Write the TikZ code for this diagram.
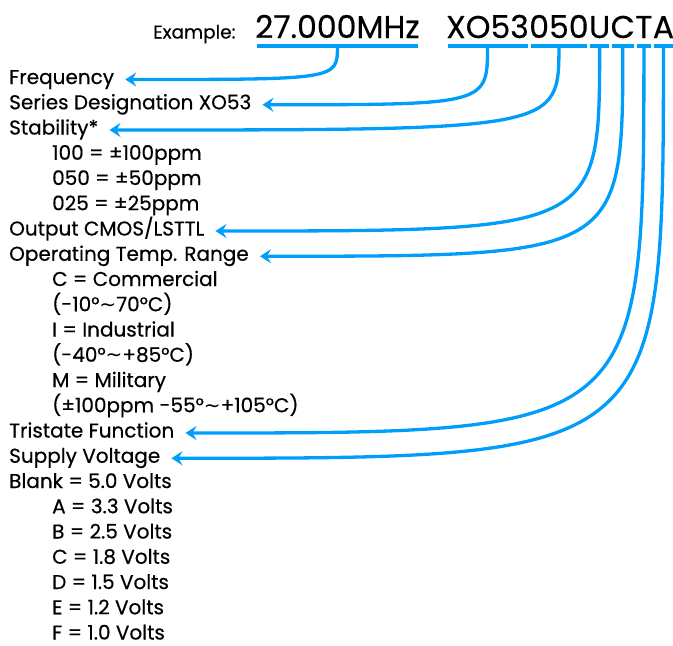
\documentclass[tikz,border=0pt]{standalone}
\usepackage{fontspec}
\setmainfont{Poppins}[FakeBold=0.4]
\newfontfamily\tildefont{DejaVu Sans}
\usetikzlibrary{positioning,arrows.meta}
\definecolor{wire}{RGB}{0,158,250}

\begin{document}
\begin{tikzpicture}[x=1pt,y=-1pt,font=\fontsize{20}{20}\selectfont,
  lbl/.style={anchor=base west,inner sep=0pt,text height=14pt,text depth=5pt},
  code/.style={anchor=base west,inner sep=0pt,text depth=8pt,font=\fontsize{31.5}{32}\selectfont},
  ul/.style={wire,line width=3.8pt,shorten <=1.5pt,shorten >=1.5pt},
  ar/.style={{Stealth[length=11pt,width=14pt,inset=4pt]}-,wire,line width=3.3pt,shorten <=11pt}]
  \useasboundingbox (0,0) rectangle (673,646);
  % part number
  \node[lbl,font=\fontsize{18.5}{20}\selectfont](ex) at (153,38.5){Example:};
  \node[code](fq) at (255,38){27.000MHz};
  \node[code](xo) at (446,38){XO53};
  \node[code,base right=0pt of xo](stb){050};
  \node[code,base right=0pt of stb](outp){U};
  \node[code,base right=0pt of outp](temp){C};
  \node[code,base right=0pt of temp](tri){T};
  \node[code,base right=0pt of tri](volt){A};
  % legend
  \node[lbl](freq) at (9,84){Frequency};
  \node[lbl](series) at (9,109.25){Series Designation XO53};
  \node[lbl](stab) at (9,134.5){Stability*};
  \node[lbl](s100) at (52,159.75){100 = ±100ppm};
  \node[lbl](s050) at (52,185){050 = ±50ppm};
  \node[lbl](s025) at (52,210.25){025 = ±25ppm};
  \node[lbl](output) at (9,235.5){Output CMOS/LSTTL};
  \node[lbl](range) at (9,260.75){Operating Temp. Range};
  \node[lbl](rc) at (52,286){C = Commercial};
  \node[lbl](rcval) at (52,311.25){(-10°{\tildefont ∼}70°C)};
  \node[lbl](ri) at (52,336.5){I = Industrial};
  \node[lbl](rival) at (52,361.75){(-40°{\tildefont ∼}+85°C)};
  \node[lbl](rm) at (52,387){M = Military};
  \node[lbl](rmval) at (52,412.25){(±100ppm -55°{\tildefont ∼}+105°C)};
  \node[lbl](tristate) at (9,437.5){Tristate Function};
  \node[lbl](supply) at (9,462.75){Supply Voltage};
  \node[lbl](blank) at (9,488){Blank = 5.0 Volts};
  \node[lbl](va) at (52,513.25){A = 3.3 Volts};
  \node[lbl](vb) at (52,538.5){B = 2.5 Volts};
  \node[lbl](vc) at (52,563.75){C = 1.8 Volts};
  \node[lbl](vd) at (52,589){D = 1.5 Volts};
  \node[lbl](ve) at (52,614.25){E = 1.2 Volts};
  \node[lbl,text depth=0pt](vf) at (52,639.5){F = 1.0 Volts};
  % underlines and leaders
  \draw[ul](fq.south west)--(fq.south east);\draw[ul](xo.south west)--(xo.south east);\draw[ul](stb.south west)--(stb.south east);
  \draw[ul](outp.south west)--(outp.south east);\draw[ul](temp.south west)--(temp.south east);
  \draw[ul](tri.south west)--(tri.south east);\draw[ul](volt.south west)--(volt.south east);
  \draw[ar](freq.east) .. controls (fq.south |- freq.east) and (fq.south |- freq.east) .. (fq.south);
  \draw[ar](series.east) .. controls (xo.south |- series.east) and (xo.south |- series.east) .. (xo.south);
  \draw[ar](stab.east) .. controls (stb.south |- stab.east) and (stb.south |- stab.east) .. (stb.south);
  \draw[ar](output.east) .. controls (outp.south |- output.east) and (outp.south |- output.east) .. (outp.south);
  \draw[ar](range.east) .. controls (temp.south |- range.east) and (temp.south |- range.east) .. (temp.south);
  \draw[ar](tristate.east) .. controls (tri.south |- tristate.east) and (tri.south |- tristate.east) .. (tri.south);
  \draw[ar](supply.east) .. controls (volt.south |- supply.east) and (volt.south |- supply.east) .. (volt.south);
\end{tikzpicture}
\end{document}
